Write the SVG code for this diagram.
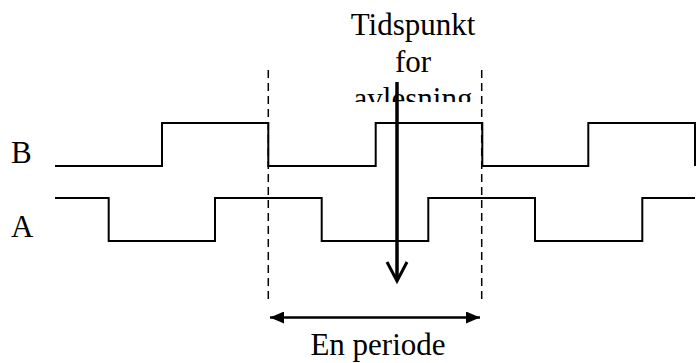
<svg xmlns="http://www.w3.org/2000/svg" width="697" height="363" viewBox="0 0 697 363">
<style>
.sig{fill:none;stroke:#000;stroke-width:2}
.dash{fill:none;stroke:#000;stroke-width:1.5;stroke-dasharray:8 5}
.t{font-family:"Liberation Serif","Times New Roman",serif;font-size:31px;fill:#000}
</style>
<defs>
<clipPath id="clip"><rect x="300" y="0" width="250" height="102"/></clipPath>
<marker id="tri" viewBox="0 0 14 12" refX="14" refY="6" markerWidth="14" markerHeight="12" markerUnits="userSpaceOnUse" orient="auto-start-reverse"><path d="M0,0 L14,6 L0,12 Z" fill="#000"/></marker>
</defs>
<rect width="697" height="363" fill="#fff"/>
<g id="label-time">
<text class="t" x="413" y="35" text-anchor="middle">Tidspunkt</text>
<text class="t" x="413" y="72" text-anchor="middle">for</text>
<text class="t" x="413" y="109" text-anchor="middle" clip-path="url(#clip)">avlesning</text>
</g>
<g id="signal-B">
<text class="t" x="11" y="163">B</text>
<path class="sig" d="M55,166 H162 V123 H268.3 V166 H375.7 V123 H482.3 V166 H588.3 V123 H695 V166"/>
</g>
<g id="signal-A">
<text class="t" x="11" y="237">A</text>
<path class="sig" d="M55,198 H108.7 V241 H215 V198 H321.7 V241 H428.3 V198 H535 V241 H642.3 V198 H695"/>
</g>
<g id="connectors">
<line class="dash" x1="268.3" y1="70" x2="268.3" y2="302"/>
<line class="dash" x1="481.7" y1="70" x2="481.7" y2="302"/>
<line x1="397" y1="82" x2="397" y2="280" stroke="#000" stroke-width="3.5"/>
<polyline points="387,262 397,281 407,262" fill="none" stroke="#000" stroke-width="3"/>
<line x1="270" y1="317.5" x2="480" y2="317.5" stroke="#000" stroke-width="2.5" marker-start="url(#tri)" marker-end="url(#tri)"/>
</g>
<g id="label-period">
<text class="t" x="378" y="355" text-anchor="middle">En periode</text>
</g>
</svg>
